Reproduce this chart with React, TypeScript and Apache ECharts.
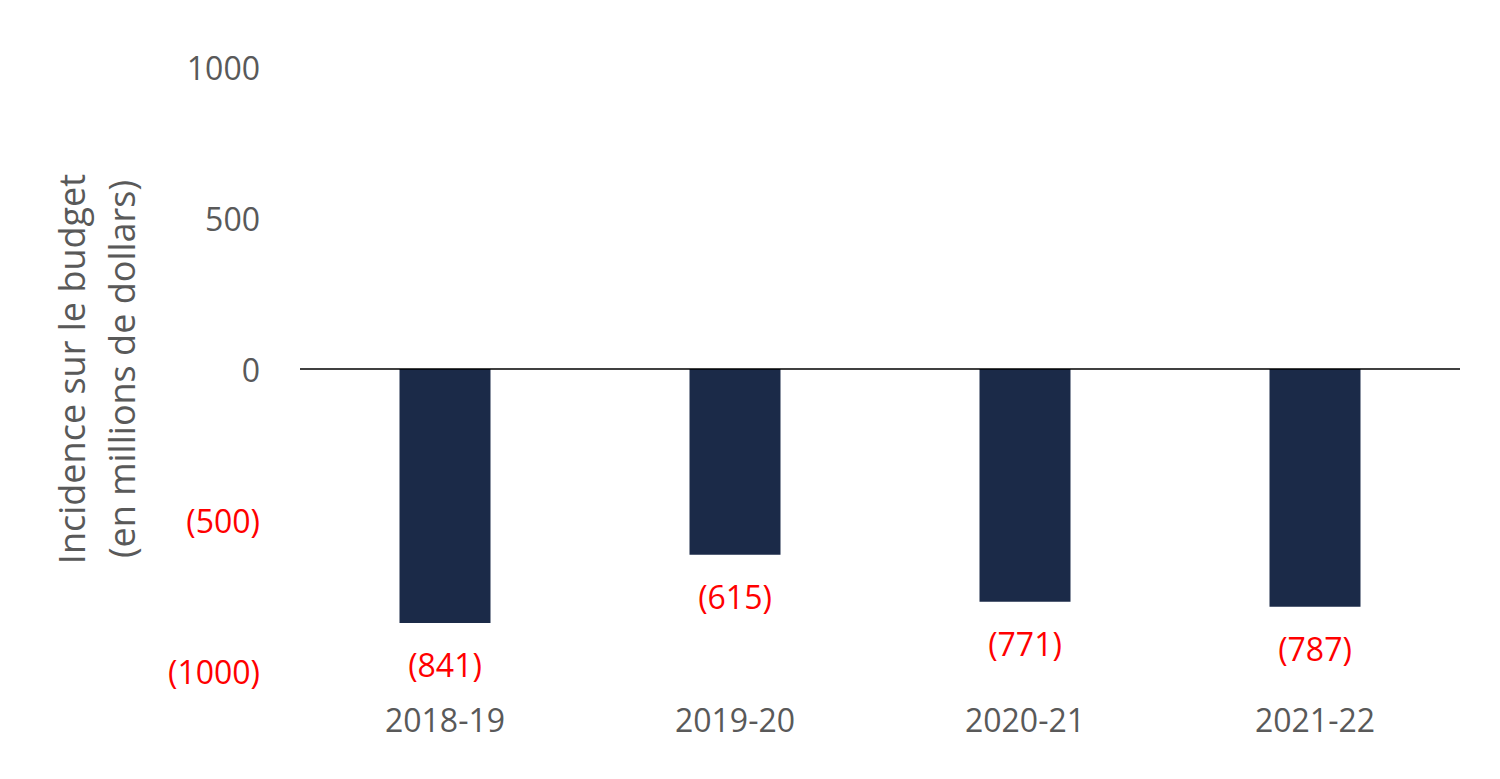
import React, { useEffect, useRef } from "react";
import * as echarts from "echarts";

const categories = ["2018-19", "2019-20", "2020-21", "2021-22"];
const values = [-841, -615, -771, -787];
const yTicks = { min: -1000, max: 1000, interval: 500 };
const yTitle = "Incidence sur le budget\n(en millions de dollars)";

const FONT = "'Open Sans', sans-serif";
const GRAY = "#595959";
const RED = "#ff0000";
const NAVY = "#1b2a48";

const fmt = (v: number) => (v < 0 ? `(${Math.abs(v)})` : `${v}`);

export default function App() {
  const ref = useRef<HTMLDivElement>(null);
  useEffect(() => {
    if (!ref.current) return;
    const chart = echarts.init(ref.current, undefined, { renderer: "svg" });
    chart.setOption({
      animation: false,
      backgroundColor: "#ffffff",
      grid: { left: 300, right: 40, top: 67, bottom: 108 },
      xAxis: {
        type: "category",
        data: categories,
        axisLine: { show: false, onZero: false },
        axisTick: { show: false },
        axisLabel: {
          color: GRAY,
          fontFamily: FONT,
          fontSize: 32,
          margin: 32,
        },
      },
      yAxis: {
        type: "value",
        min: yTicks.min,
        max: yTicks.max,
        interval: yTicks.interval,
        splitLine: { show: false },
        axisLine: { show: false },
        axisTick: { show: false },
        axisLabel: {
          fontFamily: FONT,
          fontSize: 32,
          margin: 40,
          formatter: (v: number) => fmt(v),
          color: (v: any) => (Number(v) < 0 ? RED : GRAY),
        },
        name: yTitle,
        nameLocation: "middle",
        nameRotate: 90,
        nameGap: 154,
        nameTextStyle: {
          color: GRAY,
          fontFamily: FONT,
          fontSize: 36,
          lineHeight: 50,
        },
      },
      series: [
        {
          type: "bar",
          data: values,
          barWidth: 91,
          itemStyle: { color: NAVY },
          label: {
            show: true,
            position: "bottom",
            distance: 26,
            color: RED,
            fontFamily: FONT,
            fontSize: 32,
            formatter: (p: any) => fmt(p.value),
          },
          markLine: {
            silent: true,
            symbol: "none",
            label: { show: false },
            lineStyle: { color: "#000000", width: 1.5, type: "solid" },
            data: [{ yAxis: 0 }],
          },
        },
      ],
    });
    return () => chart.dispose();
  }, []);
  return (
    <div
      ref={ref}
      style={{ position: "fixed", left: 0, top: 0, width: 1500, height: 779 }}
    />
  );
}
